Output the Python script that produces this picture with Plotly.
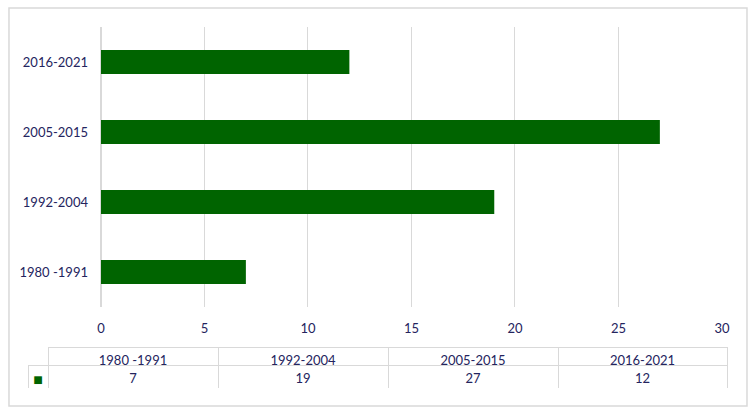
import plotly.graph_objects as go

periods = ["1980 -1991", "1992-2004", "2005-2015", "2016-2021"]
counts = [7, 19, 27, 12]
x_ticks = [0, 5, 10, 15, 20, 25, 30]

bar_color = "#006400"
text_color = "#24245e"
grid_color = "#d9d9d9"
clear = "rgba(0,0,0,0)"
font_family = "Lato, 'Open Sans', sans-serif"

fig = go.Figure()

fig.add_trace(
    go.Bar(
        x=counts,
        y=periods,
        orientation="h",
        marker=dict(color=bar_color, line=dict(width=0)),
        showlegend=False,
        hoverinfo="x+y",
    )
)

# data table under the chart (legend key column + one column per period)
fig.add_trace(
    go.Table(
        domain=dict(x=[0, 1], y=[0, 0.116]),
        columnwidth=[20, 170, 170, 170, 169],
        header=dict(
            values=[""] + periods,
            height=18,
            align="center",
            fill_color=[clear] + ["white"] * 4,
            line=dict(color=[clear] + [grid_color] * 4, width=1),
            font=dict(color=text_color, size=13, family=font_family),
        ),
        cells=dict(
            values=[["■"]] + [[str(c)] for c in counts],
            height=24,
            align="center",
            fill_color="white",
            line=dict(color=grid_color, width=1),
            font=dict(
                color=[bar_color] + [text_color] * 4,
                size=[16, 13, 13, 13, 13],
                family=font_family,
            ),
        ),
    )
)

fig.update_xaxes(
    range=[0, 30],
    tickvals=x_ticks,
    domain=[0.1044, 0.9928],
    showgrid=True,
    gridcolor=grid_color,
    zeroline=True,
    zerolinecolor=grid_color,
    showline=False,
    ticks="",
    ticklabelstandoff=12,
    tickfont=dict(color=text_color, size=13, family=font_family),
)
fig.update_yaxes(
    domain=[0.2265, 1],
    showgrid=False,
    showline=False,
    ticks="",
    ticklabelstandoff=12,
    tickfont=dict(color=text_color, size=13, family=font_family),
)

# outer chart border
fig.add_shape(
    type="rect",
    xref="paper",
    yref="paper",
    x0=-0.0272,
    x1=1.0286,
    y0=-0.047,
    y1=1.0525,
    line=dict(color=grid_color, width=1.5),
    fillcolor=clear,
    layer="below",
)

fig.update_layout(
    width=752,
    height=411,
    autosize=False,
    margin=dict(l=28, r=25, t=27, b=22, pad=0),
    bargap=0.657,
    plot_bgcolor="white",
    paper_bgcolor="white",
    font=dict(family=font_family, color=text_color),
)

fig.write_html(
    "out.html",
    config={"displayModeBar": False},
    post_script="document.body.style.margin = '0';",
)
